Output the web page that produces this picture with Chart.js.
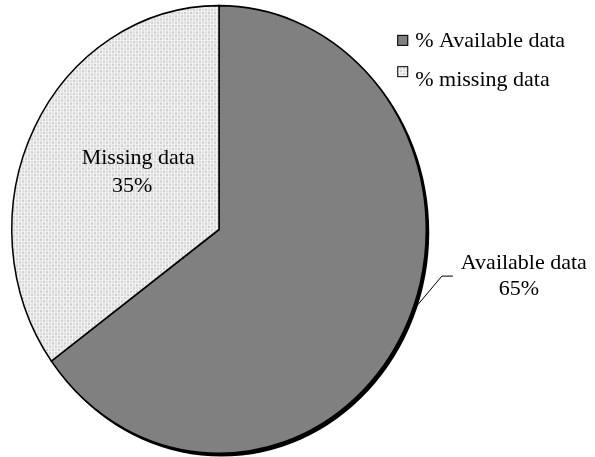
<!DOCTYPE html>
<html>
<head>
<meta charset="utf-8">
<script src="https://cdn.jsdelivr.net/npm/chart.js@4"></script>
<style>
html,body{margin:0;padding:0;background:#fff;}
#wrap{width:595px;height:457px;position:relative;}
</style>
</head>
<body>
<div id="wrap"><canvas id="c" width="595" height="457"></canvas></div>
<script>
const categories = ['Available data', 'Missing data'];
const legendLabels = ['% Available data', '% missing data'];
const values = [65, 35];
const valueLabels = ['65%', '35%'];

const FONT = "'Times New Roman', 'Liberation Serif', serif";
const Y_SCALE = 1.08;

function makePattern() {
  const p = document.createElement('canvas');
  p.width = 6; p.height = 6;
  const g = p.getContext('2d');
  g.fillStyle = '#f2f2f2';
  g.fillRect(0, 0, 6, 6);
  g.fillStyle = '#cfcfcf';
  g.fillRect(1, 1, 2, 2);
  g.fillRect(4, 4, 2, 2);
  g.fillStyle = '#dedede';
  g.fillRect(4, 1, 2, 2);
  g.fillRect(1, 4, 2, 2);
  return document.getElementById('c').getContext('2d').createPattern(p, 'repeat');
}
const pattern = makePattern();
const fills = ['#808080', pattern];

function geom(chart) {
  const arc = chart.getDatasetMeta(0).data[0];
  return { cx: arc.x, cy: arc.y, r: arc.outerRadius };
}

const ellipsePlugin = {
  id: 'ellipse',
  beforeDatasetsDraw(chart) {
    const ctx = chart.ctx;
    const g = geom(chart);
    ctx.save();
    ctx.translate(g.cx, g.cy);
    ctx.scale(1, Y_SCALE);
    ctx.translate(-g.cx, -g.cy);
    ctx.save();
    ctx.fillStyle = '#000';
    ctx.beginPath();
    ctx.arc(g.cx + 2.5, g.cy + 2.5, g.r + 0.5, 0, Math.PI * 2);
    ctx.fill();
    ctx.restore();
  },
  afterDatasetsDraw(chart) {
    chart.ctx.restore();
  },
  afterDraw(chart) {
    const ctx = chart.ctx;
    const g = geom(chart);
    const meta = chart.getDatasetMeta(0);
    ctx.save();
    ctx.fillStyle = '#000';
    ctx.textAlign = 'center';
    ctx.textBaseline = 'alphabetic';
    ctx.font = '22px ' + FONT;
    // Missing data label inside the slice
    const a1 = meta.data[1];
    const mid1 = (a1.startAngle + a1.endAngle) / 2;
    const mx = g.cx + Math.cos(mid1) * g.r * 0.47;
    const my = g.cy + Math.sin(mid1) * g.r * 0.47 * Y_SCALE;
    ctx.fillText(categories[1], mx + 6, my - 18);
    ctx.fillText(valueLabels[1], mx, my + 10);
    // Available data label outside with leader line
    const a0 = meta.data[0];
    const edgeAng = a0.startAngle + (a0.endAngle - a0.startAngle) * 0.474;
    const ex = g.cx + Math.cos(edgeAng) * (g.r + 1);
    const ey = g.cy + Math.sin(edgeAng) * (g.r + 1) * Y_SCALE;
    const lx = g.cx + g.r * 1.50;
    const ly = g.cy + g.r * 0.22;
    ctx.fillText(categories[0], lx - 6, ly - 6);
    ctx.fillText(valueLabels[0], lx - 11, ly + 20);
    ctx.strokeStyle = '#000';
    ctx.lineWidth = 1;
    ctx.beginPath();
    ctx.moveTo(lx - 77, ly + 1);
    ctx.lineTo(lx - 88, ly + 1);
    ctx.lineTo(ex, ey);
    ctx.stroke();
    // legend
    ctx.textAlign = 'left';
    const lgX = g.cx + g.r * 0.86;
    const rows = [g.cy - g.r * 0.886, g.cy - g.r * 0.735];
    legendLabels.forEach((t, i) => {
      const by = rows[i];
      ctx.fillStyle = fills[i];
      ctx.fillRect(lgX, by - 11, 11, 11);
      ctx.strokeStyle = '#000';
      ctx.lineWidth = 1;
      ctx.strokeRect(lgX + 0.5, by - 10.5, 10, 10);
      ctx.fillStyle = '#000';
      ctx.fillText(t, lgX + 18, by + 1 + (i ? 8 : 0));
    });
    ctx.restore();
  }
};

new Chart(document.getElementById('c'), {
  type: 'pie',
  data: {
    labels: categories,
    datasets: [{
      data: values,
      backgroundColor: fills,
      borderColor: '#000',
      borderWidth: 1.5,
      borderJoinStyle: 'miter'
    }]
  },
  options: {
    responsive: false,
    animation: false,
    layout: { padding: { left: 11, right: 168, top: 21.5, bottom: 19.5 } },
    plugins: {
      legend: { display: false },
      tooltip: { enabled: false }
    }
  },
  plugins: [ellipsePlugin]
});
</script>
</body>
</html>
